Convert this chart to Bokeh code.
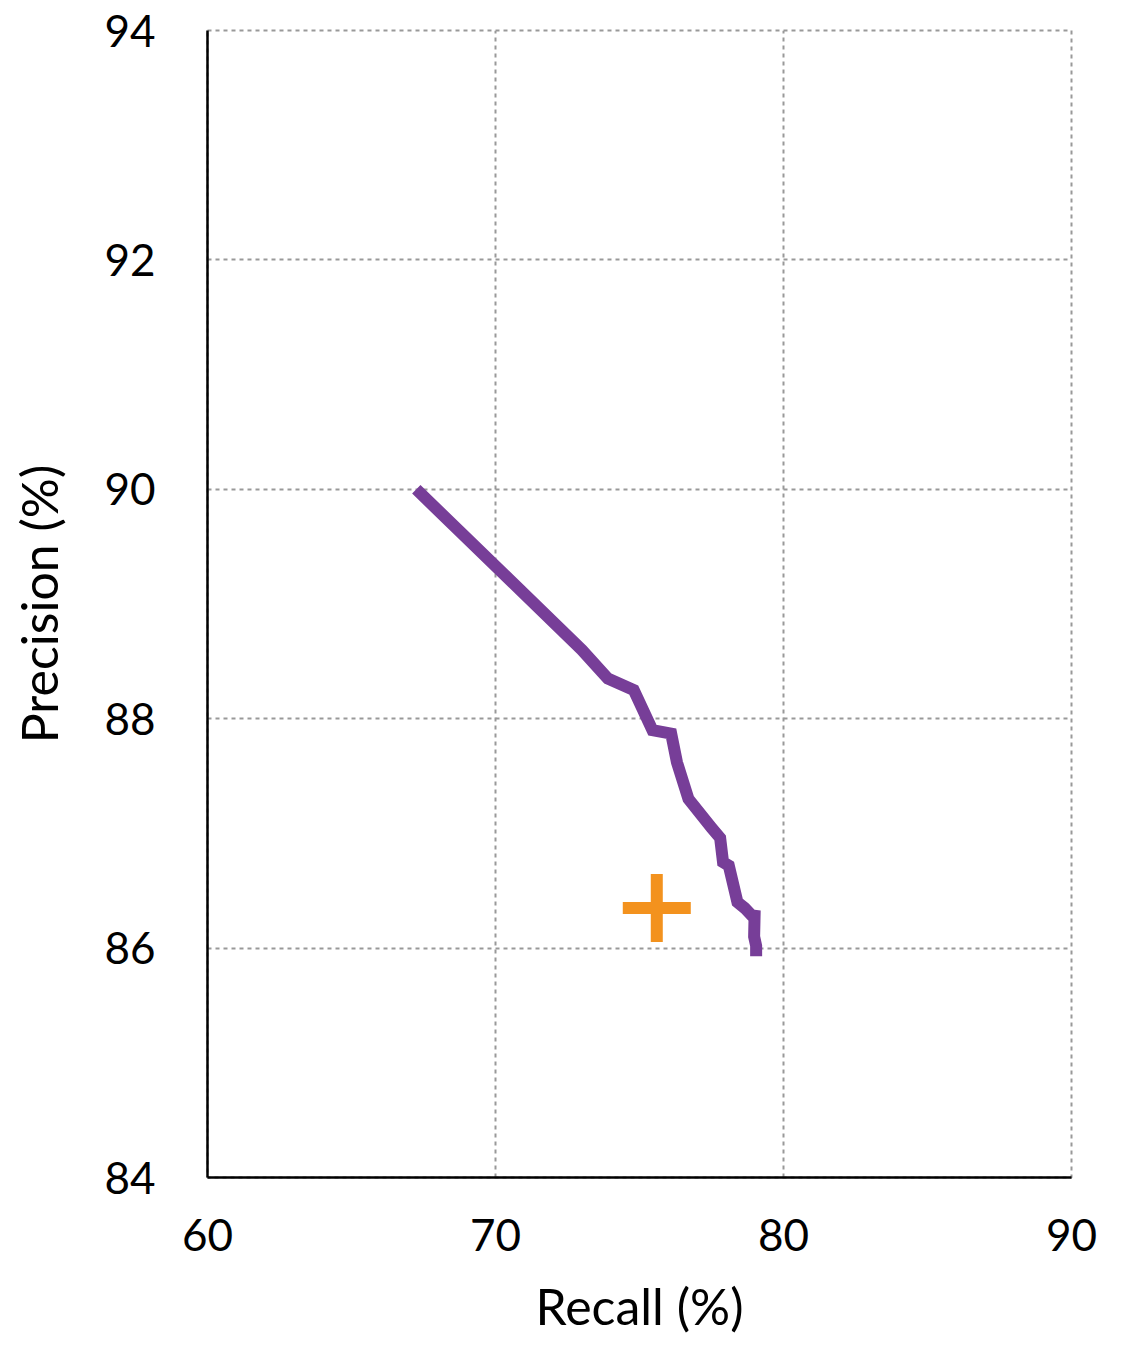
from bokeh.plotting import figure
from bokeh.embed import file_html
from bokeh.resources import INLINE
from bokeh.models import Range1d, FixedTicker

# Precision-recall curve (purple)
recall = [67.25, 73.0, 73.9, 74.8, 75.45, 76.1, 76.3, 76.7, 77.5, 77.8, 77.9,
          78.1, 78.4, 78.65, 78.95, 79.0, 78.98, 79.05, 79.05]
precision = [90.0, 88.6, 88.35, 88.25, 87.9, 87.87, 87.62, 87.3, 87.05, 86.96,
             86.75, 86.72, 86.4, 86.35, 86.27, 86.33, 86.1, 86.02, 85.93]

# Single operating point (orange plus)
point_recall = [75.6]
point_precision = [86.35]

x_ticks = [60, 70, 80, 90]
y_ticks = [84, 86, 88, 90, 92, 94]

FONT = "Lato"

p = figure(width=1120, height=1350, output_backend="svg", toolbar_location=None,
           x_range=Range1d(60, 90), y_range=Range1d(84, 94))
p.min_border_left = 207
p.min_border_right = 49
p.min_border_top = 30
p.min_border_bottom = 173
p.outline_line_color = "#999999"
p.outline_line_width = 2
p.outline_line_dash = "4 4"
p.background_fill_color = "white"
p.border_fill_color = "white"

p.line(recall, precision, line_color="#773E98", line_width=12, line_join="miter")
p.scatter(point_recall, point_precision, marker="cross", size=68,
          line_color="#F3921E", line_width=12)

for ax, ticks in ((p.xaxis, x_ticks), (p.yaxis, y_ticks)):
    ax.ticker = FixedTicker(ticks=ticks)
    ax.major_tick_line_color = None
    ax.minor_tick_line_color = None
    ax.axis_line_color = "black"
    ax.axis_line_width = 2.5
    ax.major_label_text_font = FONT
    ax.major_label_text_font_size = "44px"
    ax.major_label_text_color = "black"
    ax.axis_label_text_font = FONT
    ax.axis_label_text_font_size = "50px"
    ax.axis_label_text_font_style = "normal"
    ax.axis_label_text_color = "black"

p.xaxis.axis_label = "Recall (%)"
p.yaxis.axis_label = "Precision (%)"
p.xaxis.major_label_standoff = 35
p.yaxis.major_label_standoff = 46
p.xaxis.axis_label_standoff = 22
p.yaxis.axis_label_standoff = 32

for g in (p.xgrid, p.ygrid):
    g.grid_line_color = "#999999"
    g.grid_line_width = 2
    g.grid_line_dash = "4 4"

open("out.html", "w").write(file_html(p, INLINE))
